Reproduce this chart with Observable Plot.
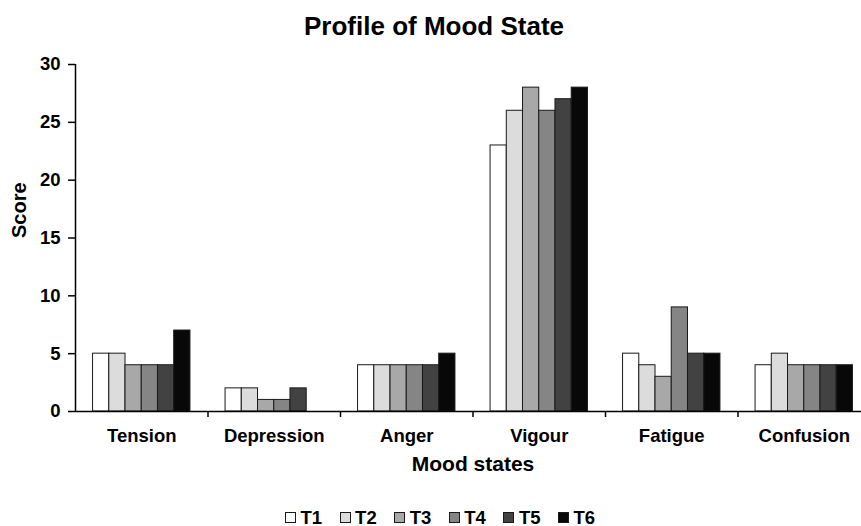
<!DOCTYPE html>
<html>
<head>
<meta charset="utf-8">
<script src="https://cdn.jsdelivr.net/npm/d3@7"></script>
<script src="https://cdn.jsdelivr.net/npm/@observablehq/plot@0.6"></script>
<style>
  html, body { margin: 0; padding: 0; background: #fff; }
  body { width: 861px; height: 526px; overflow: hidden; font-family: "Liberation Sans", Arial, sans-serif; }
  #title { height: 50px; line-height: 50px; padding-top: 1px; box-sizing: border-box; text-align: center; padding-left: 7px;
           font-size: 26px; font-weight: bold; color: #000; }
  #chart svg { display: block; }
  #legend { position: relative; height: 36px; }
  #legend .items { position: absolute; left: 285px; top: 20.5px; display: flex; }
  #legend .item { width: 54.6px; display: flex; align-items: center; height: 14px; }
  #legend .sw { width: 11px; height: 11px; box-sizing: border-box; border: 1px solid #1a1a1a; margin-right: 4.5px; flex: none; }
  #legend .lab { font-size: 18.5px; line-height: 14px; font-weight: bold; color: #000; }
</style>
</head>
<body>
<div id="title">Profile of Mood State</div>
<div id="chart"></div>
<div id="legend"><div class="items"></div></div>
<script>
const categories = ["Tension", "Depression", "Anger", "Vigour", "Fatigue", "Confusion"];
const series = ["T1", "T2", "T3", "T4", "T5", "T6"];
const T1 = [5, 2, 4, 23, 5, 4];
const T2 = [5, 2, 4, 26, 4, 5];
const T3 = [4, 1, 4, 28, 3, 4];
const T4 = [4, 1, 4, 26, 9, 4];
const T5 = [4, 2, 4, 27, 5, 4];
const T6 = [7, 0, 5, 28, 5, 4];
const yTicks = [0, 5, 10, 15, 20, 25, 30];
const seriesColors = ["#ffffff", "#dcdcdc", "#a8a8a8", "#858585", "#424242", "#080808"];

const seriesValues = [T1, T2, T3, T4, T5, T6];
const groupPad = 0.1325;            // fraction of category step before first bar
const groupWidth = 0.735;           // fraction of category step used by bars
const barW = groupWidth / series.length;

const data = categories.flatMap((c, i) =>
  series.map((s, j) => ({
    category: c, series: s, value: seriesValues[j][i],
    x1: i + groupPad + j * barW, x2: i + groupPad + (j + 1) * barW
  }))
).filter(d => d.value > 0);

const font = "'Liberation Sans', Arial, sans-serif";

const chart = Plot.plot({
  width: 861,
  height: 440,
  marginLeft: 75,
  marginRight: -9,
  marginTop: 14,
  marginBottom: 79,
  style: { fontFamily: font, fontSize: "18.5px", fontWeight: "bold", color: "#000", background: "#fff", overflow: "visible" },
  x: { type: "linear", domain: [0, categories.length] },
  y: { domain: [0, 30] },
  color: { domain: series, range: seriesColors },
  marks: [
    Plot.rectY(data, { x1: "x1", x2: "x2", y: "value", fill: "series", stroke: "#1a1a1a", strokeWidth: 1 }),
    Plot.ruleX([0], { stroke: "#000", strokeWidth: 1.5 }),
    Plot.ruleY([0], { stroke: "#000", strokeWidth: 1.5 }),
    Plot.axisY({ ticks: yTicks, tickSize: 7, tickPadding: 8, label: null, strokeWidth: 1.5 }),
    Plot.axisX({ ticks: d3.range(1, categories.length + 1), tickSize: 6, tickFormat: () => "", label: null, strokeWidth: 1.5 }),
    Plot.axisX({ ticks: categories.map((c, i) => i + 0.5), tickSize: 0, tickPadding: 17,
                 tickFormat: v => categories[Math.floor(v)], label: null }),
    Plot.text(["Mood states"], { frameAnchor: "bottom", dy: 53, lineAnchor: "middle", fontSize: 21, fontWeight: "bold" }),
    Plot.text(["Score"], { frameAnchor: "left", dx: -55.5, rotate: -90, lineAnchor: "middle", fontSize: 20, fontWeight: "bold" })
  ]
});
document.getElementById("chart").appendChild(chart);

const items = document.querySelector("#legend .items");
series.forEach((s, j) => {
  const it = document.createElement("div");
  it.className = "item";
  const sw = document.createElement("span");
  sw.className = "sw";
  sw.style.background = seriesColors[j];
  const lab = document.createElement("span");
  lab.className = "lab";
  lab.textContent = s;
  it.appendChild(sw);
  it.appendChild(lab);
  items.appendChild(it);
});
</script>
</body>
</html>
